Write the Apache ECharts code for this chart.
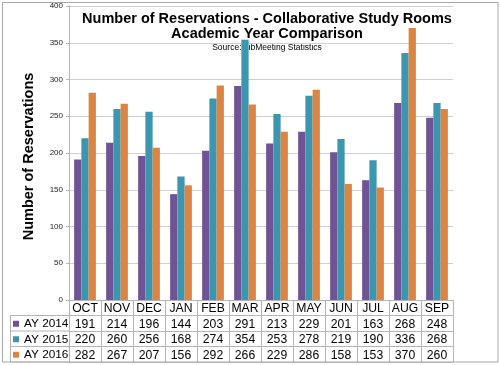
<!DOCTYPE html>
<html>
<head>
<meta charset="utf-8">
<script src="https://cdn.jsdelivr.net/npm/echarts@6/dist/echarts.min.js"></script>
<style>
html,body{margin:0;padding:0;background:#fff;}
#chart{width:500px;height:365px;}
</style>
</head>
<body>
<div id="chart"></div>
<script>
const categories = ['OCT','NOV','DEC','JAN','FEB','MAR','APR','MAY','JUN','JUL','AUG','SEP'];
const seriesNames = ['AY 2014','AY 2015','AY 2016'];
const ay2014 = [191,214,196,144,203,291,213,229,201,163,268,248];
const ay2015 = [220,260,256,168,274,354,253,278,219,190,336,268];
const ay2016 = [282,267,207,156,292,266,229,286,158,153,370,260];
const yMin = 0, yMax = 400, yStep = 50;
const titleLine1 = 'Number of Reservations - Collaborative Study Rooms';
const titleLine2 = 'Academic Year Comparison';
const sourceText = 'Source: LibMeeting Statistics';
const yAxisTitle = 'Number of Reservations';

const seriesValues = [ay2014, ay2015, ay2016];
const colors = ['#6E5494', '#3B97B0', '#DD8540'];
const FONT = '"Liberation Sans", Arimo, Arial, sans-serif';
const ROW = 15.5;
const LINE = '#b4b4b4';
const TFS = 12.2;

const xAxes = [{
  type: 'category', data: categories, position: 'bottom', offset: 0,
  axisLine: {show: true, lineStyle: {color: LINE}},
  axisTick: {show: true, length: ROW, interval: 0, lineStyle: {color: LINE}},
  axisLabel: {interval: 0, fontFamily: FONT, fontSize: TFS, color: '#000', margin: 2.5, lineHeight: 13}
}];
seriesValues.forEach((vals, i) => {
  xAxes.push({
    type: 'category', data: categories, position: 'bottom', offset: ROW * (i + 1),
    axisLine: {show: true, lineStyle: {color: LINE}},
    axisTick: {show: true, length: ROW, interval: 0, lineStyle: {color: LINE}},
    axisLabel: {interval: 0, fontFamily: FONT, fontSize: TFS, color: '#000', margin: 2.5, lineHeight: 13,
      formatter: (v, idx) => String(vals[idx])}
  });
});
xAxes.push({
  type: 'category', data: categories, position: 'bottom', offset: ROW * 4,
  axisLine: {show: true, lineStyle: {color: LINE}},
  axisTick: {show: false}, axisLabel: {show: false}
});

const chart = echarts.init(document.getElementById('chart'), null, {renderer: 'canvas'});
chart.setOption({
  animation: false,
  backgroundColor: '#fff',
  grid: {left: 69, right: 47, top: 6, bottom: 65, containLabel: false},
  legend: {
    orient: 'vertical', left: 13, top: 317, padding: 0,
    icon: 'rect', itemWidth: 6, itemHeight: 6, itemGap: 2,
    data: seriesNames,
    textStyle: {fontFamily: FONT, fontSize: 11.8, color: '#000', lineHeight: 13.5}
  },
  xAxis: xAxes,
  yAxis: {
    type: 'value', min: yMin, max: yMax, interval: yStep,
    name: yAxisTitle, nameLocation: 'middle', nameGap: 33, nameRotate: 90,
    nameTextStyle: {fontFamily: FONT, fontSize: 14.5, fontWeight: 'bold', color: '#000', padding: [0, 7, 0, 0]},
    axisLine: {show: true, lineStyle: {color: LINE}},
    axisTick: {show: true, length: 3, lineStyle: {color: LINE}},
    axisLabel: {fontFamily: FONT, fontSize: 8, color: '#222', margin: 6},
    splitLine: {show: true, lineStyle: {color: '#d0d0d0'}}
  },
  series: seriesValues.map((vals, i) => ({
    type: 'bar', name: seriesNames[i], data: vals,
    xAxisIndex: 0, yAxisIndex: 0,
    barGap: '0%', barCategoryGap: '32%',
    itemStyle: {color: colors[i]}
  })),
  graphic: [
    {type: 'rect', silent: true, shape: {x: 2.5, y: 2.5, width: 495.5, height: 359.5},
      style: {fill: 'none', stroke: '#a8a8a8', lineWidth: 1}},
    {type: 'line', silent: true, shape: {x1: 10.5, y1: 315.5, x2: 69, y2: 315.5}, style: {stroke: LINE}},
    {type: 'line', silent: true, shape: {x1: 10.5, y1: 331, x2: 69, y2: 331}, style: {stroke: LINE}},
    {type: 'line', silent: true, shape: {x1: 10.5, y1: 346.5, x2: 69, y2: 346.5}, style: {stroke: LINE}},
    {type: 'line', silent: true, shape: {x1: 10.5, y1: 362, x2: 69, y2: 362}, style: {stroke: LINE}},
    {type: 'line', silent: true, shape: {x1: 10.5, y1: 315.5, x2: 10.5, y2: 362}, style: {stroke: LINE}},
    {type: 'text', silent: true, x: 267, y: 18.5,
      style: {text: titleLine1, fontFamily: FONT, fontSize: 14.5, fontWeight: 'bold', fill: '#000', align: 'center', verticalAlign: 'middle'}},
    {type: 'text', silent: true, x: 267, y: 34,
      style: {text: titleLine2, fontFamily: FONT, fontSize: 14.5, fontWeight: 'bold', fill: '#000', align: 'center', verticalAlign: 'middle'}},
    {type: 'text', silent: true, x: 267, y: 48,
      style: {text: sourceText, fontFamily: FONT, fontSize: 8.5, fill: '#000', align: 'center', verticalAlign: 'middle'}}
  ]
});
</script>
</body>
</html>
